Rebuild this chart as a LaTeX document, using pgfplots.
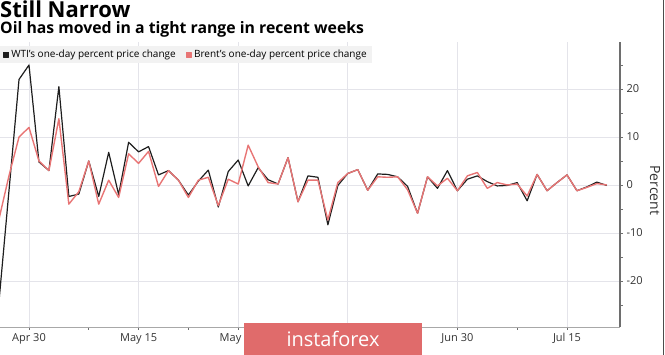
\documentclass[border=0pt]{standalone}
\usepackage{pgfplots}
\usepackage{pgfplotstable}
\pgfplotsset{compat=1.18}
\usepackage{fontspec}
\setmainfont{Open Sans}
\setsansfont{Open Sans}
\definecolor{wti}{HTML}{1E1E1E}
\definecolor{brent}{HTML}{E87575}
\definecolor{gridc}{HTML}{E4E4EA}
\definecolor{axisc}{HTML}{6E6E6E}
\definecolor{wm}{HTML}{E06B6B}

\pgfplotstableread{
i wti brent
0 -24 -7
1 -1 2
2 22 10
3 25 12
4 4.8 5
5 3 3
6 20.5 13.8
7 -2.4 -4
8 -1.9 -1.4
9 5 5
10 -2.4 -4
11 6.8 1
12 -2 -2.6
13 8.9 6.5
14 6.9 4.5
15 8 7
16 2.1 -0.3
17 3 3
18 1 1
19 -2.1 -2.6
20 0.8 1
21 3.1 1.6
22 -4.6 -4.3
23 2.8 1.2
24 5.2 0.2
25 -0.2 8.3
26 3.6 3.8
27 1.1 0.5
28 0.2 0.2
29 5.7 5.7
30 -3.5 -3.5
31 1.9 1
32 1.6 1
33 -8.3 -7.3
34 -0.1 0.5
35 2.4 2.4
36 3.2 3.2
37 -1.1 -1.1
38 2.3 1.7
39 2.2 1.6
40 1.7 1.7
41 -0.3 -1
42 -5.9 -5.9
43 1.7 1.7
44 -0.7 -0.2
45 3 1.4
46 -1.2 -1.2
47 1.2 1.9
48 1.9 2.6
49 0.7 -0.7
50 -0.2 0.5
51 -0.1 0
52 0.5 0.2
53 -3.3 -2.3
54 2.2 2.2
55 -1.2 -1.2
56 0.5 0.5
57 2.1 2.1
58 -1.2 -1.2
59 -0.4 -0.5
60 0.6 0.3
61 -0.1 0
}\oil

\begin{document}
\begin{tikzpicture}[x=1pt,y=1pt]
\path[use as bounding box] (0,0) rectangle (665,355);
\begin{axis}[
  at={(0pt,28pt)}, anchor=south west, scale only axis, width=620pt, height=285pt,
  xmin=0.09, xmax=62.32, ymin=-29.6, ymax=29.8,
  axis x line*=bottom, axis y line*=right,
  x axis line style={draw=axisc!60, line width=0.8pt, -},
  y axis line style={draw=axisc, line width=1.3pt, -},
  xtick={3,14,24,35,46,57},
  xticklabels={Apr 30, May 15, May 29, Jun 15, Jun 30, Jul 15},
  minor xtick={9,19,30,40,52},
  ytick={-20,-10,0,10,20},
  minor ytick={-25,-15,-5,5,15,25},
  grid=major, major grid style={draw=gridc, line width=0.7pt},
  tick align=outside, major tick length=3pt, minor tick length=3pt,
  tick style={draw=axisc, line width=0.8pt},
  ticklabel style={font=\fontsize{11}{11}\selectfont, text=black!80},
  /pgf/number format/assume math mode=true,
  ylabel={Percent},
  every axis y label/.style={at={(axis description cs:1.0565,0.48)}, rotate=-90, anchor=center, font=\fontsize{14}{14}\selectfont, text=black!80},
  legend style={at={(0,1)}, anchor=north west, yshift=-4pt, fill=gray!10, draw=none,
    font=\fontsize{10}{10}\selectfont, inner xsep=3pt, inner ysep=2pt,
    /tikz/every even column/.append style={column sep=8pt}},
  legend columns=2, legend cell align=left,
  legend image code/.code={\fill[#1] (0pt,-2.5pt) rectangle (5pt,2.5pt);},
]
\addplot[color=wti, line width=1.2pt, line join=round] table[x=i, y=wti] {\oil};
\addlegendentry{WTI's one-day percent price change}
\addplot[color=brent, line width=1.4pt, line join=round] table[x=i, y=brent] {\oil};
\addlegendentry{Brent's one-day percent price change}
\end{axis}
\node[anchor=base west, inner sep=0, font=\fontsize{22}{22}\selectfont\bfseries] at (0,337) {Still Narrow};
\node[anchor=base west, inner sep=0, font=\fontsize{15.8}{15.8}\selectfont\bfseries] at (0,321) {Oil has moved in a tight range in recent weeks};
\fill[wm] (244,0) rectangle (422,32);
\node[text=white, font=\fontsize{20}{20}\selectfont] at (333,16) {instaforex};
\draw[black!70, line width=1.5pt] (663.5,0) -- (663.5,355);
\end{tikzpicture}
\end{document}
